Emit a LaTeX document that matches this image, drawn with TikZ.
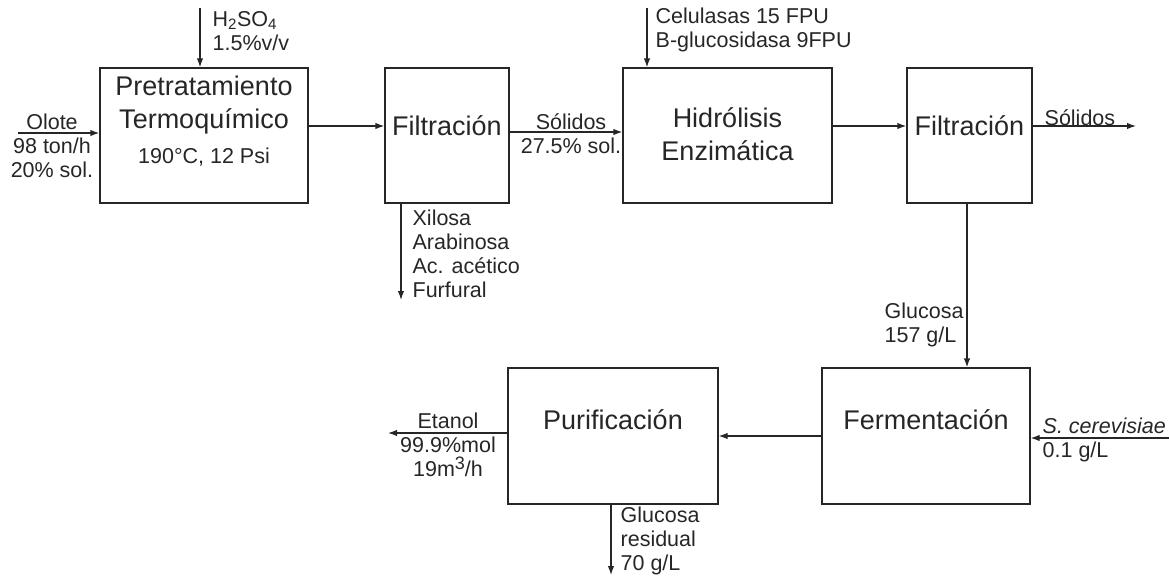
\documentclass[tikz,border=0pt]{standalone}
\usepackage{fontspec}
\setmainfont{Liberation Sans}
\usetikzlibrary{arrows.meta}

\begin{document}
\begin{tikzpicture}[x=1pt,y=-1pt,>={Latex[length=9pt,width=6.5pt]},
  line width=1.3pt, color=black!85,
  every node/.style={font=\fontsize{21.5}{24}\selectfont, inner sep=2pt},
  box/.style 2 args={draw,minimum width=#1,minimum height=#2,inner sep=0pt},
  title/.style={font=\fontsize{27}{33}\selectfont, align=center}]
  \useasboundingbox (0,0) rectangle (1169,576);

  % process units
  \node[box={208}{135}] (pre) at (204,135.5) {};
  \node[box={124}{135}] (fil1) at (447,135.5) {};
  \node[box={209}{135}] (hid) at (727.5,135.5) {};
  \node[box={125}{135}] (fil2) at (969.5,135.5) {};
  \node[box={208}{136}] (fer) at (926,436) {};
  \node[box={210}{136}] (pur) at (613,436) {};

  \node[title] (preT) at (204,105.5) {Pretratamiento\\Termoquímico};
  \node (preC) at (204,157) {190°C, 12 Psi};
  \node[title] (fil1T) at (447,126) {Filtración};
  \node[title] (hidT) at (727.5,134) {Hidrólisis\\Enzimática};
  \node[title] (fil2T) at (969.5,126) {Filtración};
  \node[title] (ferT) at (926,420) {Fermentación};
  \node[title] (purT) at (613,420) {Purificación};

  % free ends of the streams
  \coordinate (h2so4) at (200,8);
  \coordinate (enz) at (647,8);
  \coordinate (olote) at (18,133);
  \coordinate (xil) at (401,300);
  \coordinate (sol) at (1136,126);
  \coordinate (cer) at (1169,438);
  \coordinate (eta) at (388,433);
  \coordinate (res) at (611,575);

  \draw[->] (h2so4) -- (h2so4 |- pre.north);
  \draw[->] (olote) -- (olote -| pre.west);
  \draw[->] ([yshift=9.5pt]pre.east) -- ([yshift=9.5pt]fil1.west);
  \draw[->] ([yshift=3.5pt]fil1.east) -- ([yshift=3.5pt]hid.west);
  \draw[->] (enz) -- (enz |- hid.north);
  \draw[->] (xil |- fil1.south) -- (xil);
  \draw[->] ([yshift=9.5pt]hid.east) -- ([yshift=9.5pt]fil2.west);
  \draw[->] (sol -| fil2.east) -- (sol);
  \draw[->] ([xshift=-2.5pt]fil2.south) -- ([xshift=-2.5pt]fil2.south |- fer.north);
  \draw[->] (cer) -- (cer -| fer.east);
  \draw[->] (fer.west) -- (pur.east);
  \draw[->] (eta -| pur.west) -- (eta);
  \draw[->] (res |- pur.south) -- (res);

  % stream labels
  \node[anchor=west,align=left] (h2so4L) at (210,31) {H\textsubscript{2}SO\textsubscript{4}\\1.5\%v/v};
  \node[align=center] (oloteL) at (52,146) {Olote\\98 ton/h\\20\% sol.};
  \node[align=center] (sol1L) at (571,134) {Sólidos\\27.5\% sol.};
  \node[anchor=west,align=left] (xilL) at (410,254) {Xilosa\\Arabinosa\\Ac. acético\\Furfural};
  \node[anchor=west,align=left] (enzL) at (653,30) {Celulasas 15 FPU\\B-glucosidasa 9FPU};
  \node[anchor=west] (sol2L) at (1042,118) {Sólidos};
  \node[anchor=west,align=left] (gluL) at (882,325) {Glucosa\\157 g/L};
  \node[anchor=west,align=left] (cerL) at (1040,440) {\textit{S. cerevisiae}\\0.1 g/L};
  \node[align=center] (etaL) at (448,445) {Etanol\\99.9\%mol\\19m\raisebox{7pt}{\fontsize{18}{18}\selectfont 3}/h};
  \node[anchor=west,align=left] (resL) at (618,541) {Glucosa\\residual\\70 g/L};
\end{tikzpicture}
\end{document}
